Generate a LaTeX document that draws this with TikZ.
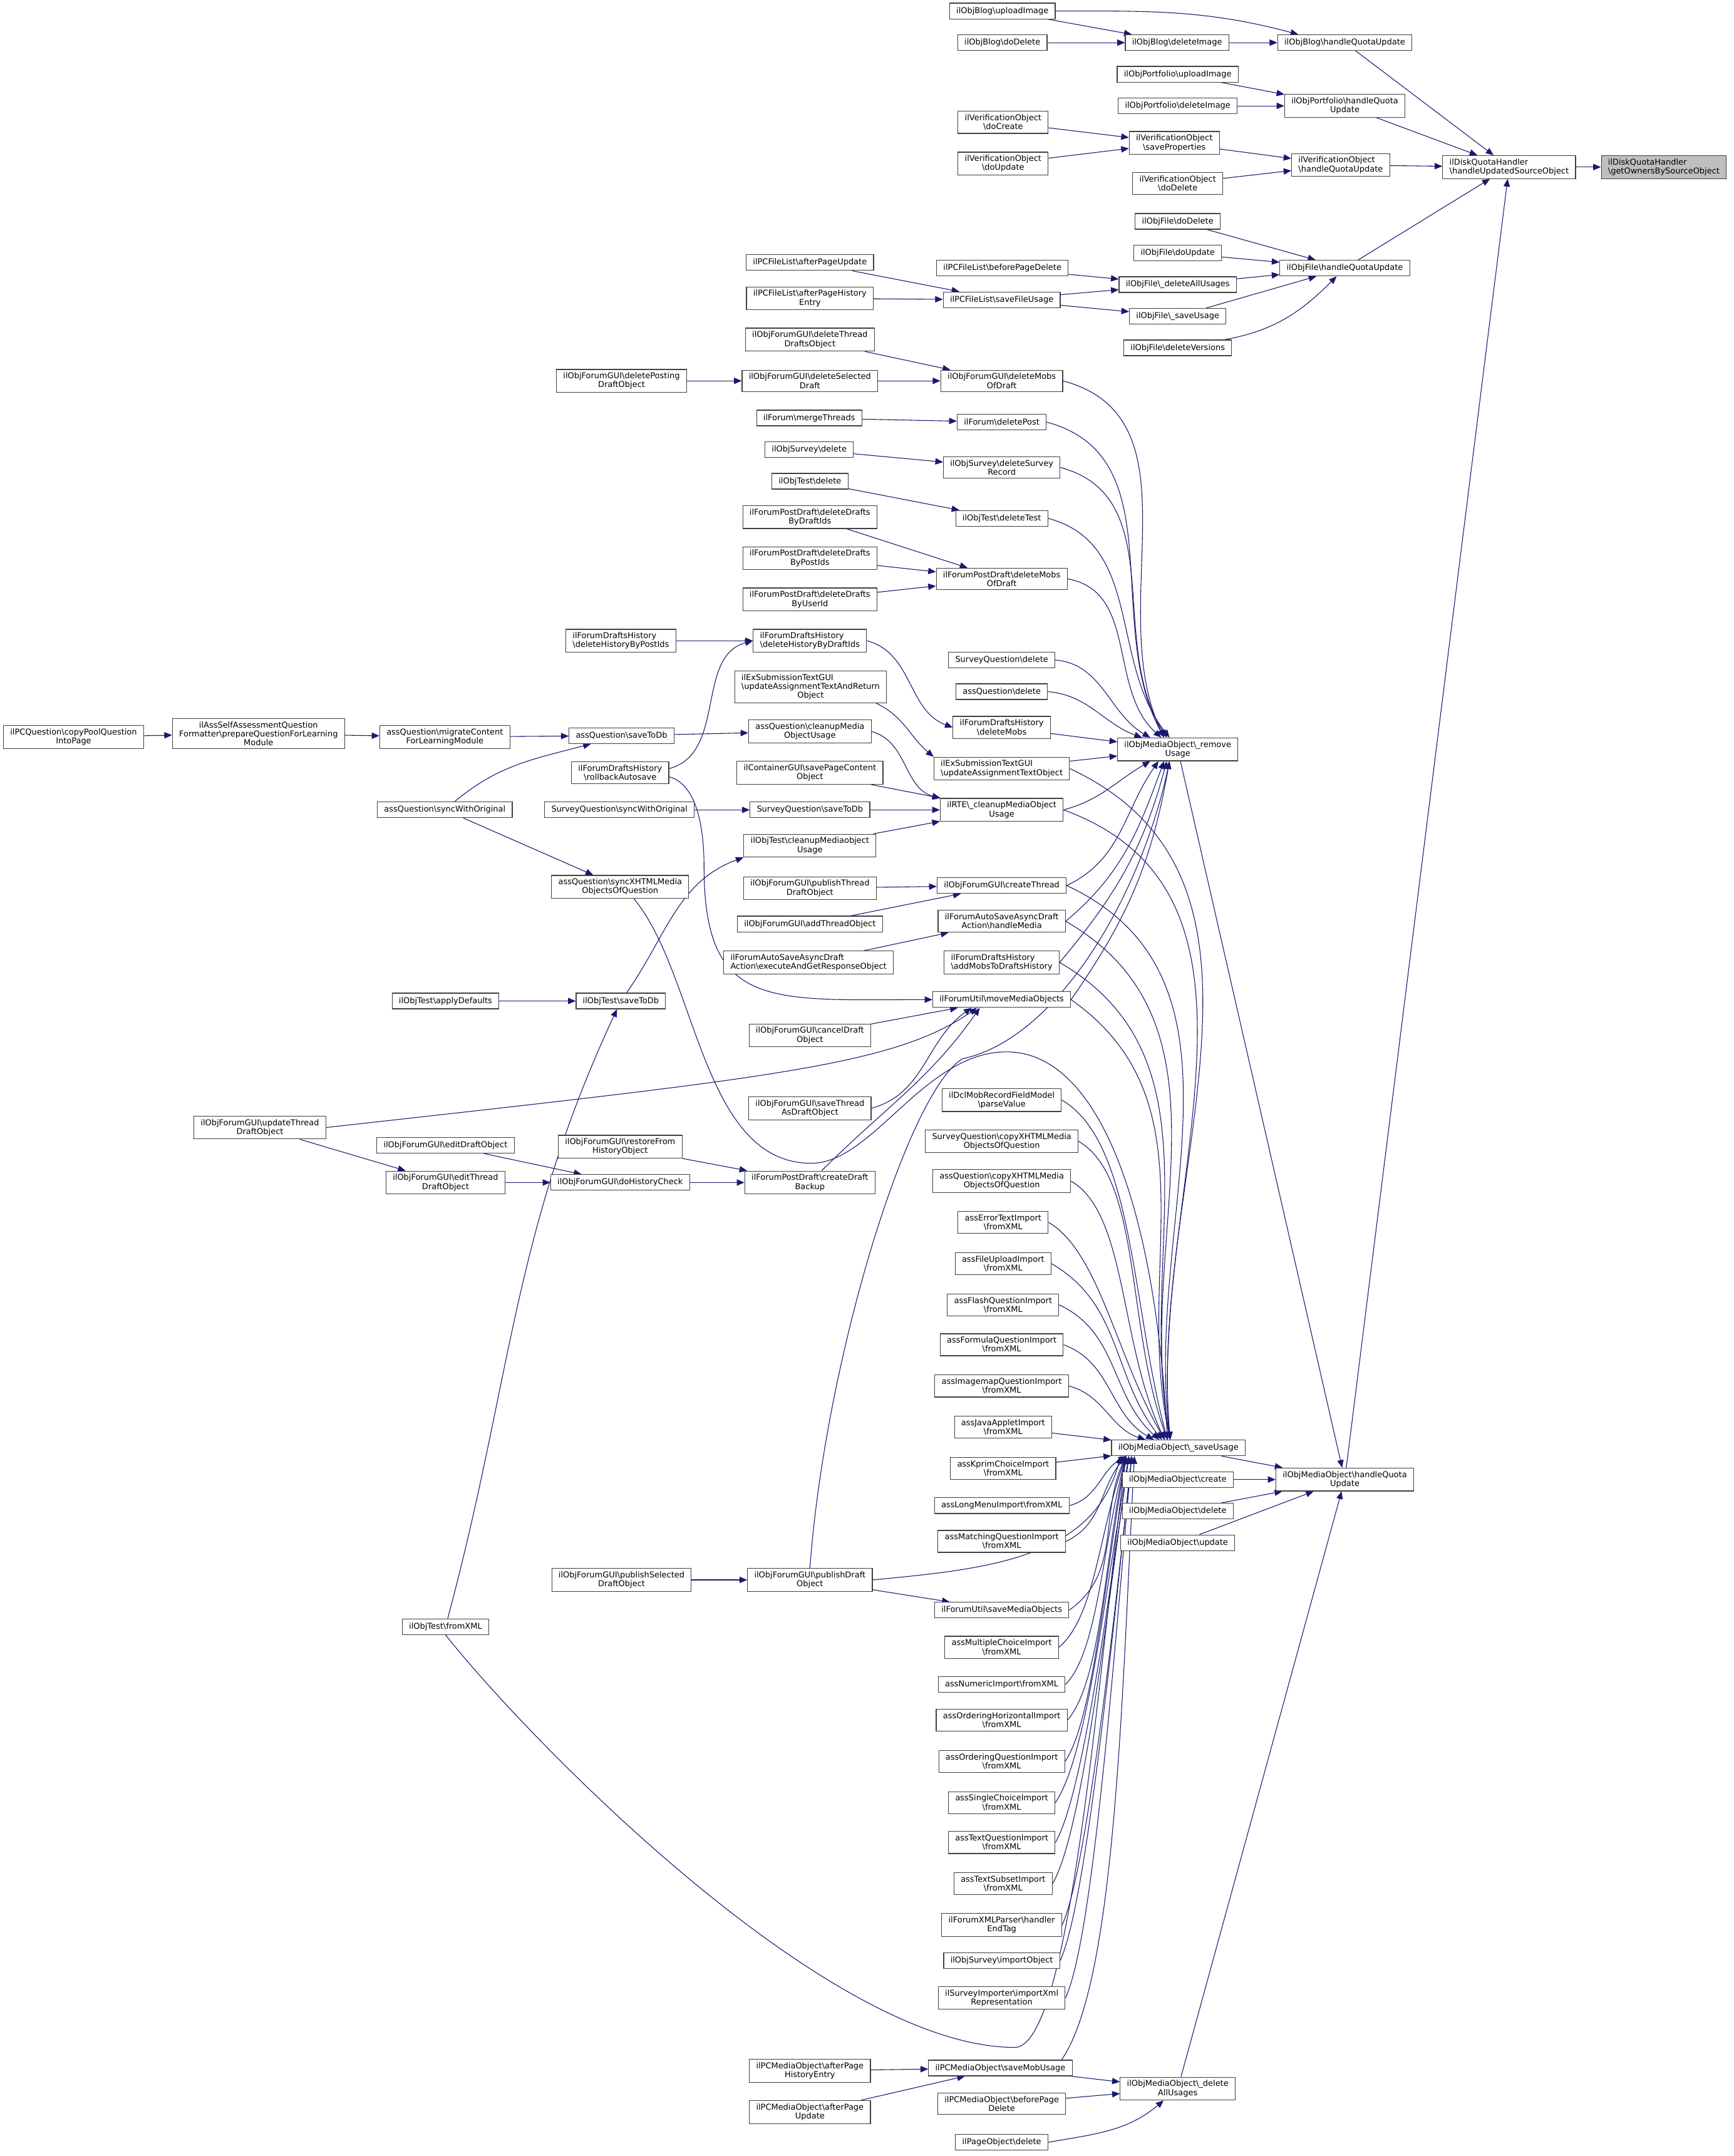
\documentclass[tikz,border=0pt]{standalone}
\usepackage{fontspec}
\setmainfont{DejaVu Sans}
\usepackage{xcolor}
\usepackage{tikz}
\usetikzlibrary{arrows.meta}
\definecolor{callblue}{RGB}{25,25,112}
\definecolor{boxgrey}{RGB}{64,64,64}
\definecolor{rootgrey}{RGB}{191,191,191}
\newcommand{\bsh}{\textbackslash}
\pgfdeclarelayer{edges}
\pgfsetlayers{edges,main}

\begin{document}
\begin{tikzpicture}[
  x=0.05cm, y=-0.05cm,
  fbox/.style={
    draw=boxgrey, fill=white, line width=0.75pt,
    font=\fontsize{8.4}{9.2}\selectfont,
    inner xsep=7pt, inner ysep=3.2pt, minimum height=0.57cm, align=center
  },
  fboxl/.style={fbox, align=left},
  rootbox/.style={fboxl, fill=rootgrey},
  call/.style={-{Triangle[length=2.8mm,width=2.3mm]}, line width=0.7pt, draw=callblue}
]
\useasboundingbox (0,0) rectangle (1261,1568);

\node[rootbox] (root) at (1210,121.5) {ilDiskQuotaHandler\\\bsh getOwnersBySourceObject};
\node[fboxl] (hUSO) at (1097.5,121.5) {ilDiskQuotaHandler\\\bsh handleUpdatedSourceObject};
\node[fbox] (blogHQU) at (978,31) {ilObjBlog\bsh handleQuotaUpdate};
\node[fbox] (blogDel) at (856,31) {ilObjBlog\bsh deleteImage};
\node[fbox] (blogUp) at (729,8) {ilObjBlog\bsh uploadImage};
\node[fbox] (blogDoDel) at (729,31) {ilObjBlog\bsh doDelete};
\node[fbox] (pfUp) at (856.5,54) {ilObjPortfolio\bsh uploadImage};
\node[fbox] (pfDel) at (856.5,77) {ilObjPortfolio\bsh deleteImage};
\node[fbox] (pfHQU) at (978,77) {ilObjPortfolio\bsh handleQuota\\Update};
\node[fbox] (voCreate) at (729.5,89) {ilVerificationObject\\\bsh doCreate};
\node[fbox] (voUpdate) at (729.5,119) {ilVerificationObject\\\bsh doUpdate};
\node[fbox] (voSave) at (854,104) {ilVerificationObject\\\bsh saveProperties};
\node[fbox] (voDel) at (856.5,133.5) {ilVerificationObject\\\bsh doDelete};
\node[fboxl] (voHQU) at (975,120) {ilVerificationObject\\\bsh handleQuotaUpdate};
\node[fbox] (fDoDel) at (856.5,161) {ilObjFile\bsh doDelete};
\node[fbox] (fDoUpd) at (856.5,184) {ilObjFile\bsh doUpdate};
\node[fbox] (fHQU) at (978,195) {ilObjFile\bsh handleQuotaUpdate};
\node[fbox] (fDelAll) at (856.5,207) {ilObjFile\bsh\_deleteAllUsages};
\node[fbox] (fSave) at (856.5,230) {ilObjFile\bsh\_saveUsage};
\node[fbox] (fDelVer) at (856.5,253) {ilObjFile\bsh deleteVersions};
\node[fbox] (pcflBPD) at (729,195) {ilPCFileList\bsh beforePageDelete};
\node[fbox] (pcflSave) at (728.5,218) {ilPCFileList\bsh saveFileUsage};
\node[fbox] (pcflAPU) at (589,191) {ilPCFileList\bsh afterPageUpdate};
\node[fbox] (pcflAPH) at (589,217) {ilPCFileList\bsh afterPageHistory\\Entry};
\node[fbox] (fgDelThread) at (589,247) {ilObjForumGUI\bsh deleteThread\\DraftsObject};
\node[fbox] (fgDelSel) at (589,277) {ilObjForumGUI\bsh deleteSelected\\Draft};
\node[fbox] (fgDelPost) at (452,277) {ilObjForumGUI\bsh deletePosting\\DraftObject};
\node[fbox] (fgDelMobs) at (728.5,277) {ilObjForumGUI\bsh deleteMobs\\OfDraft};
\node[fbox] (fMerge) at (588.5,304) {ilForum\bsh mergeThreads};
\node[fbox] (fDelPost) at (728.5,307) {ilForum\bsh deletePost};
\node[fbox] (svDel) at (588.5,327) {ilObjSurvey\bsh delete};
\node[fbox] (svDelRec) at (728.5,340) {ilObjSurvey\bsh deleteSurvey\\Record};
\node[fbox] (tDel) at (589,350) {ilObjTest\bsh delete};
\node[fbox] (tDelTest) at (728.5,377) {ilObjTest\bsh deleteTest};
\node[fbox] (pdByDraft) at (589,376) {ilForumPostDraft\bsh deleteDrafts\\ByDraftIds};
\node[fbox] (pdByPost) at (589,406) {ilForumPostDraft\bsh deleteDrafts\\ByPostIds};
\node[fbox] (pdByUser) at (589,436) {ilForumPostDraft\bsh deleteDrafts\\ByUserId};
\node[fbox] (pdDelMobs) at (728.5,421) {ilForumPostDraft\bsh deleteMobs\\OfDraft};
\node[fboxl] (dhByPost) at (451.5,466) {ilForumDraftsHistory\\\bsh deleteHistoryByPostIds};
\node[fboxl] (dhByDraft) at (589,466) {ilForumDraftsHistory\\\bsh deleteHistoryByDraftIds};
\node[fbox] (sqDel) at (728.5,480) {SurveyQuestion\bsh delete};
\node[fbox] (aqDel) at (728.5,503) {assQuestion\bsh delete};
\node[fbox] (exRet) at (589.5,499.5) {\makebox[0pt][l]{ilExSubmissionTextGUI}\phantom{\bsh updateAssignmentTextAndReturn}\\\bsh updateAssignmentTextAndReturn\\Object};
\node[fbox] (dhDelMobs) at (728.5,529) {ilForumDraftsHistory\\\bsh deleteMobs};
\node[fbox] (aqCleanup) at (589,532) {assQuestion\bsh cleanupMedia\\ObjectUsage};
\node[fboxl] (exUpd) at (728.5,559) {ilExSubmissionTextGUI\\\bsh updateAssignmentTextObject};
\node[fbox] (cgSave) at (589,562) {ilContainerGUI\bsh savePageContent\\Object};
\node[fbox] (remove) at (856.5,545) {ilObjMediaObject\bsh\_remove\\Usage};
\node[fbox] (rte) at (728.5,589) {ilRTE\bsh\_cleanupMediaObject\\Usage};
\node[fbox] (sqSave) at (589,589) {SurveyQuestion\bsh saveToDb};
\node[fbox] (sqSync) at (450.5,589) {SurveyQuestion\bsh syncWithOriginal};
\node[fbox] (tCleanup) at (589,615) {ilObjTest\bsh cleanupMediaobject\\Usage};
\node[fbox] (fgPubThread) at (589,646) {ilObjForumGUI\bsh publishThread\\DraftObject};
\node[fbox] (fgCreate) at (728.5,644) {ilObjForumGUI\bsh createThread};
\node[fbox] (fgAddThread) at (589,672) {ilObjForumGUI\bsh addThreadObject};
\node[fbox] (asHandle) at (728.5,670) {ilForumAutoSaveAsyncDraft\\Action\bsh handleMedia};
\node[fboxl] (asExec) at (588,700) {ilForumAutoSaveAsyncDraft\\Action\bsh executeAndGetResponseObject};
\node[fboxl] (dhAddMobs) at (728.5,700) {ilForumDraftsHistory\\\bsh addMobsToDraftsHistory};
\node[fbox] (moveMob) at (728.5,727) {ilForumUtil\bsh moveMediaObjects};
\node[fbox] (fgCancel) at (589,753) {ilObjForumGUI\bsh cancelDraft\\Object};
\node[fbox] (fgSaveThread) at (589,806) {ilObjForumGUI\bsh saveThread\\AsDraftObject};
\node[fbox] (dcl) at (728.5,800) {ilDclMobRecordFieldModel\\\bsh parseValue};
\node[fbox] (sqCopy) at (728.5,830) {SurveyQuestion\bsh copyXHTMLMedia\\ObjectsOfQuestion};
\node[fbox] (aqCopy) at (728.5,859) {assQuestion\bsh copyXHTMLMedia\\ObjectsOfQuestion};
\node[fbox] (errText) at (729.5,889) {assErrorTextImport\\\bsh fromXML};
\node[fbox] (fileUp) at (729.5,919) {assFileUploadImport\\\bsh fromXML};
\node[fbox] (flash) at (729.5,949) {assFlashQuestionImport\\\bsh fromXML};
\node[fbox] (formula) at (728.5,978) {assFormulaQuestionImport\\\bsh fromXML};
\node[fbox] (imagemap) at (728.5,1008) {assImagemapQuestionImport\\\bsh fromXML};
\node[fbox] (java) at (729.5,1038) {assJavaAppletImport\\\bsh fromXML};
\node[fbox] (kprim) at (729.5,1068) {assKprimChoiceImport\\\bsh fromXML};
\node[fbox] (longMenu) at (728.5,1095) {assLongMenuImport\bsh fromXML};
\node[fbox] (matching) at (728.5,1121) {assMatchingQuestionImport\\\bsh fromXML};
\node[fbox] (saveUsage) at (857,1053) {ilObjMediaObject\bsh\_saveUsage};
\node[fbox] (mobHQU) at (978,1076) {ilObjMediaObject\bsh handleQuota\\Update};
\node[fbox] (mobCreate) at (856.5,1076) {ilObjMediaObject\bsh create};
\node[fbox] (mobDelete) at (856.5,1099) {ilObjMediaObject\bsh delete};
\node[fbox] (mobUpdate) at (856.5,1122) {ilObjMediaObject\bsh update};
\node[fbox] (fgPubDraft) at (589,1149) {ilObjForumGUI\bsh publishDraft\\Object};
\node[fbox] (fgPubSel) at (452,1149) {ilObjForumGUI\bsh publishSelected\\DraftObject};
\node[fbox] (saveMedia) at (728.5,1171) {ilForumUtil\bsh saveMediaObjects};
\node[fbox] (multi) at (728.5,1198) {assMultipleChoiceImport\\\bsh fromXML};
\node[fbox] (numeric) at (728.5,1225) {assNumericImport\bsh fromXML};
\node[fbox] (ordHor) at (728.5,1251) {assOrderingHorizontalImport\\\bsh fromXML};
\node[fbox] (ordQ) at (728.5,1281) {assOrderingQuestionImport\\\bsh fromXML};
\node[fbox] (single) at (728.5,1311) {assSingleChoiceImport\\\bsh fromXML};
\node[fbox] (textQ) at (728.5,1340) {assTextQuestionImport\\\bsh fromXML};
\node[fbox] (textSub) at (729.5,1370) {assTextSubsetImport\\\bsh fromXML};
\node[fbox] (xmlParser) at (728.5,1400) {ilForumXMLParser\bsh handler\\EndTag};
\node[fbox] (svImport) at (728.5,1426) {ilObjSurvey\bsh importObject};
\node[fbox] (svImporter) at (728.5,1453) {ilSurveyImporter\bsh importXml\\Representation};
\node[fbox] (pcmAPH) at (589,1506) {ilPCMediaObject\bsh afterPage\\HistoryEntry};
\node[fbox] (pcmSave) at (727.5,1504) {ilPCMediaObject\bsh saveMobUsage};
\node[fbox] (pcmAPU) at (589,1536) {ilPCMediaObject\bsh afterPage\\Update};
\node[fbox] (pcmBPD) at (728.5,1530) {ilPCMediaObject\bsh beforePage\\Delete};
\node[fbox] (mobDelAll) at (856.5,1519) {ilObjMediaObject\bsh\_delete\\AllUsages};
\node[fbox] (pageDel) at (728.5,1558) {ilPageObject\bsh delete};
\node[fbox] (pcq) at (53.5,536) {ilPCQuestion\bsh copyPoolQuestion\\IntoPage};
\node[fbox] (assSelf) at (188,533.5) {ilAssSelfAssessmentQuestion\\Formatter\bsh prepareQuestionForLearning\\Module};
\node[fbox] (aqMigrate) at (323.5,536) {assQuestion\bsh migrateContent\\ForLearningModule};
\node[fbox] (aqSave) at (452,535) {assQuestion\bsh saveToDb};
\node[fbox] (dhRollback) at (451,562) {ilForumDraftsHistory\\\bsh rollbackAutosave};
\node[fbox] (aqSync) at (323.5,589) {assQuestion\bsh syncWithOriginal};
\node[fbox] (aqSyncX) at (451,645) {assQuestion\bsh syncXHTMLMedia\\ObjectsOfQuestion};
\node[fbox] (tApply) at (324,728) {ilObjTest\bsh applyDefaults};
\node[fbox] (tSave) at (451.5,728) {ilObjTest\bsh saveToDb};
\node[fbox] (fgUpdThread) at (189,820) {ilObjForumGUI\bsh updateThread\\DraftObject};
\node[fbox] (fgEditDraft) at (324,833) {ilObjForumGUI\bsh editDraftObject};
\node[fbox] (fgEditThread) at (324,860) {ilObjForumGUI\bsh editThread\\DraftObject};
\node[fbox] (fgRestore) at (451,834) {ilObjForumGUI\bsh restoreFrom\\HistoryObject};
\node[fbox] (fgDoHist) at (451,860) {ilObjForumGUI\bsh doHistoryCheck};
\node[fbox] (pdBackup) at (589,860) {ilForumPostDraft\bsh createDraft\\Backup};
\node[fbox] (tFromXML) at (324,1183) {ilObjTest\bsh fromXML};

\begin{pgfonlayer}{edges}
\fill[white] (0,0) rectangle (1261,1568);

\draw[call] (hUSO) -- (root);
\draw[call] (blogHQU) -- (hUSO);
\draw[call] (pfHQU) -- (hUSO);
\draw[call] (voHQU) -- (hUSO);
\draw[call] (fHQU) -- (hUSO);
\draw[call] (mobHQU) -- (hUSO);
\draw[call] (blogDel) -- (blogHQU);
\draw[call] (blogUp.east) to[out=0,in=165] (blogHQU.170);
\draw[call] (blogUp) -- (blogDel);
\draw[call] (blogDoDel) -- (blogDel);
\draw[call] (pfUp) -- (pfHQU);
\draw[call] (pfDel) -- (pfHQU);
\draw[call] (voCreate) -- (voSave);
\draw[call] (voUpdate) -- (voSave);
\draw[call] (voSave) -- (voHQU);
\draw[call] (voDel) -- (voHQU);
\draw[call] (fDoDel) -- (fHQU);
\draw[call] (fDoUpd) -- (fHQU);
\draw[call] (fDelAll) -- (fHQU);
\draw[call] (fSave) -- (fHQU);
\draw[call] (fDelVer) to[out=10,in=-135] (fHQU);
\draw[call] (pcflBPD) -- (fDelAll);
\draw[call] (pcflSave) -- (fDelAll);
\draw[call] (pcflSave) -- (fSave);
\draw[call] (pcflAPU) -- (pcflSave);
\draw[call] (pcflAPH) -- (pcflSave);

\draw[call] (fgDelThread) -- (fgDelMobs);
\draw[call] (fgDelSel) -- (fgDelMobs);
\draw[call] (fgDelPost) -- (fgDelSel);
\draw[call] (fMerge) -- (fDelPost);
\draw[call] (svDel) -- (svDelRec);
\draw[call] (tDel) -- (tDelTest);
\draw[call] (pdByDraft) -- (pdDelMobs);
\draw[call] (pdByPost) -- (pdDelMobs);
\draw[call] (pdByUser) -- (pdDelMobs);
\draw[call] (dhByPost) -- (dhByDraft);
\draw[call] (dhByDraft.east) to[out=-15,in=160] (dhDelMobs.west);
\draw[call] ([xshift=-0.4cm]exRet.south east) to[out=-25,in=140] (exUpd.north west);

\draw[call] (fgDelMobs.east) to[out=-15,in=115] ([xshift=-0.5cm]remove.north);
\draw[call] (fDelPost.east) to[out=-15,in=118] ([xshift=-0.5cm]remove.north);
\draw[call] (svDelRec.east) to[out=-15,in=122] ([xshift=-0.4cm]remove.north);
\draw[call] (tDelTest.east) to[out=-15,in=128] ([xshift=-0.3cm]remove.north);
\draw[call] (pdDelMobs.east) to[out=-10,in=138] ([xshift=-0.6cm]remove.north);
\draw[call] (sqDel.east) to[out=-5,in=150] ([xshift=-1cm]remove.north);
\draw[call] (aqDel.east) to[out=-5,in=160] ([xshift=-1.3cm]remove.north);
\draw[call] (dhDelMobs) -- (remove);
\draw[call] (exUpd) -- (remove);
\draw[call] (rte.east) to[out=15,in=-150] ([xshift=-1cm]remove.south);
\draw[call] (fgCreate.east) to[out=25,in=-125] ([xshift=-0.7cm]remove.south);
\draw[call] (asHandle.east) to[out=40,in=-110] ([xshift=-0.5cm]remove.south);
\draw[call] (dhAddMobs.east) to[out=50,in=-105] ([xshift=-0.4cm]remove.south);
\draw[call] (moveMob.east) to[out=55,in=-100] ([xshift=-0.3cm]remove.south);
\draw[call] (fgPubDraft.north) .. controls (600,990) and (660,794) .. (700,770) .. controls (770,755) and (830,650) .. ([xshift=-0.3cm]remove.south);

\draw[call] (rte.east) to[out=-20,in=95] ([xshift=-0.3cm]saveUsage.north);
\draw[call] (exUpd.east) to[out=-25,in=95] ([xshift=-0.3cm]saveUsage.north);
\draw[call] (fgCreate.east) to[out=-25,in=97] ([xshift=-0.3cm]saveUsage.north);
\draw[call] (asHandle.east) to[out=-30,in=100] ([xshift=-0.3cm]saveUsage.north);
\draw[call] (dhAddMobs.east) to[out=-30,in=100] ([xshift=-0.3cm]saveUsage.north);
\draw[call] (moveMob.east) to[out=-35,in=102] ([xshift=-0.3cm]saveUsage.north);
\draw[call] (dcl.east) to[out=-30,in=105,out looseness=0.6] ([xshift=-0.4cm]saveUsage.north);
\draw[call] (sqCopy.east) to[out=-30,in=110,out looseness=0.6] ([xshift=-0.4cm]saveUsage.north);
\draw[call] (aqCopy.east) to[out=-30,in=115,out looseness=0.6] ([xshift=-0.5cm]saveUsage.north);
\draw[call] (errText.east) to[out=-30,in=120,out looseness=0.6] ([xshift=-0.5cm]saveUsage.north);
\draw[call] (fileUp.east) to[out=-30,in=128] ([xshift=-0.6cm]saveUsage.north);
\draw[call] (flash.east) to[out=-25,in=138] ([xshift=-0.7cm]saveUsage.north);
\draw[call] (formula.east) to[out=-20,in=150] ([xshift=-0.9cm]saveUsage.north);
\draw[call] (imagemap.east) to[out=-15,in=162] ([xshift=-1.2cm]saveUsage.north);
\draw[call] (java) -- (saveUsage);
\draw[call] (kprim) -- (saveUsage);
\draw[call] (longMenu.east) to[out=15,in=-150] ([xshift=-1.9cm]saveUsage.south);
\draw[call] (matching.east) to[out=25,in=-130] ([xshift=-1.9cm]saveUsage.south);
\draw[call] (saveMedia.east) to[out=35,in=-115] ([xshift=-1.9cm]saveUsage.south);
\draw[call] (multi.east) to[out=40,in=-110,out looseness=0.6] ([xshift=-1.9cm]saveUsage.south);
\draw[call] (numeric.east) to[out=45,in=-105,out looseness=0.5] ([xshift=-1.9cm]saveUsage.south);
\draw[call] (ordHor.east) to[out=50,in=-102,out looseness=0.5] ([xshift=-1.9cm]saveUsage.south);
\draw[call] (ordQ.east) to[out=55,in=-100,out looseness=0.4] ([xshift=-1.9cm]saveUsage.south);
\draw[call] (single.east) to[out=55,in=-100,out looseness=0.4] ([xshift=-1.8cm]saveUsage.south);
\draw[call] (textQ.east) to[out=60,in=-98,out looseness=0.35] ([xshift=-1.8cm]saveUsage.south);
\draw[call] (textSub.east) to[out=60,in=-98,out looseness=0.35] ([xshift=-1.8cm]saveUsage.south);
\draw[call] (xmlParser.east) to[out=65,in=-96,out looseness=0.3] ([xshift=-1.7cm]saveUsage.south);
\draw[call] (svImport.east) to[out=65,in=-96,out looseness=0.3] ([xshift=-1.7cm]saveUsage.south);
\draw[call] (svImporter.east) to[out=65,in=-95,out looseness=0.3] ([xshift=-1.7cm]saveUsage.south);
\draw[call] ([xshift=-0.4cm]pcmSave.north east) to[out=55,in=-93,out looseness=0.4] ([xshift=-1.6cm]saveUsage.south);
\draw[call] (fgPubDraft.east) .. controls (720,1141) and (795,1133) .. ([xshift=-2.1cm]saveUsage.south);
\draw[call] (fgPubDraft) -- (saveMedia);
\draw[call] ([xshift=0.5cm]aqSyncX.south) .. controls (507,709) and (510,846) .. (590,846) .. controls (635,846) and (672,765) .. (732,765) .. controls (800,765) and (840,880) .. ([xshift=-0.4cm]saveUsage.north);
\draw[call] (tFromXML.south) .. controls (380,1260) and (600,1489) .. (738,1489) .. controls (780,1489) and (800,1200) .. ([xshift=-1.9cm]saveUsage.south);

\draw[call] ([yshift=-0.15cm]dhRollback.east) .. controls (506,570) and (512,600) .. (512,630) .. controls (512,735) and (560,727) .. (moveMob.west);
\draw[call] ([yshift=0.15cm]dhRollback.east) to[out=15,in=195] (dhByDraft.west);
\draw[call] (fgCancel) -- (moveMob);
\draw[call] (fgUpdThread.east) .. controls (560,784) and (650,775) .. ([xshift=-0.9cm]moveMob.south);
\draw[call] (fgSaveThread.east) to[out=15,in=215] ([xshift=-1.1cm]moveMob.south);
\draw[call] (pdBackup) to[out=45,in=235] ([xshift=-0.8cm]moveMob.south);

\draw[call] (pcq) -- (assSelf);
\draw[call] (assSelf) -- (aqMigrate);
\draw[call] (aqMigrate) -- (aqSave);
\draw[call] (aqSync) to[out=40,in=195] (aqSave);
\draw[call] (aqSync) -- (aqSyncX);
\draw[call] (aqSave) -- (aqCleanup);
\draw[call] (aqCleanup.east) to[out=-15,in=165] (rte.north west);
\draw[call] (cgSave) -- (rte);
\draw[call] (sqSave) -- (rte);
\draw[call] (tCleanup) -- (rte);
\draw[call] (sqSync) -- (sqSave);
\draw[call] (tSave) to[out=55,in=200] (tCleanup.south west);
\draw[call] (tApply) -- (tSave);
\draw[call] (tFromXML) to[out=75,in=-115] (tSave);
\draw[call] (fgPubThread) -- (fgCreate);
\draw[call] (fgAddThread) -- (fgCreate);
\draw[call] (asExec) -- (asHandle);
\draw[call] (fgUpdThread) -- (fgEditThread);
\draw[call] (fgEditDraft) -- (fgDoHist);
\draw[call] (fgEditThread) -- (fgDoHist);
\draw[call] (fgRestore) -- (pdBackup);
\draw[call] (fgDoHist) -- (pdBackup);
\draw[call] (fgPubSel) -- (fgPubDraft);

\draw[call] (pcmAPH) -- (pcmSave);
\draw[call] (pcmAPU) -- (pcmSave);
\draw[call] (pcmSave) -- (mobDelAll);
\draw[call] (pcmBPD) -- (mobDelAll);
\draw[call] (pageDel.east) to[out=10,in=-140] (mobDelAll);
\draw[call] (mobDelAll) -- (mobHQU);
\draw[call] (saveUsage) -- (mobHQU);
\draw[call] (mobCreate) -- (mobHQU);
\draw[call] (mobDelete) -- (mobHQU);
\draw[call] (mobUpdate) -- (mobHQU);
\draw[call] (remove) -- (mobHQU);
\end{pgfonlayer}
\end{tikzpicture}
\end{document}
